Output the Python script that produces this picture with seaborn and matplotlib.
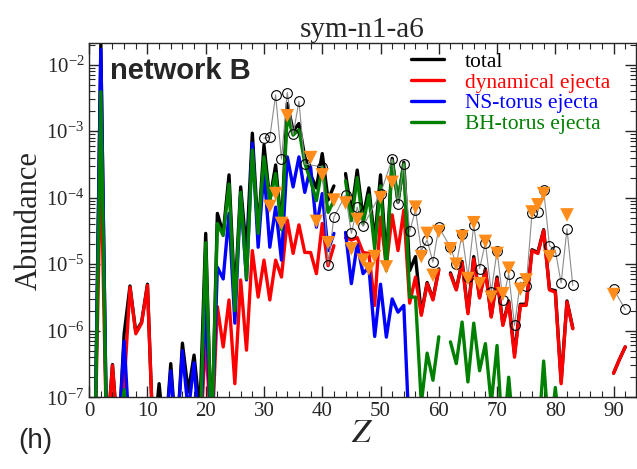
import numpy as np
import pandas as pd
import seaborn as sns
import matplotlib
matplotlib.use("Agg")
import matplotlib.pyplot as plt
from matplotlib.lines import Line2D
from matplotlib.ticker import MultipleLocator, LogLocator, NullFormatter

sns.set_style("ticks")
plt.rcParams["font.family"] = ["Liberation Serif", "DejaVu Serif"]
plt.rcParams["mathtext.fontset"] = "stix"

nan = np.nan
lo = 2e-8  # off the bottom of the plot

Z = list(range(1, 93))

# Z = 1..92
total = [lo, 2.0e-2, lo, 3.1e-7, lo, 9e-7, 4.7e-6, 9.5e-7, 1.35e-6, 5e-6,
         lo, 1.6e-7, lo, 3.2e-7, lo, 6.5e-7, 1.2e-7, 4.3e-7, 6e-8, 2.9e-5,
         lo, 5.8e-5, 2.9e-5, 2.2e-4, 3e-6, 1.45e-4, 1.5e-5, 9.3e-4, 3e-5, 6.2e-4,
         9.1e-5, 3.1e-4, 3.6e-5, 2.6e-3, 1.0e-3, 1.3e-3, 4.1e-4, 2.2e-4, 1.4e-4, 4.6e-4,
         9.2e-5, 1.5e-4, nan, 2.3e-4, 5.8e-5, 2.6e-4, 5.1e-5, 1.4e-4, 2.2e-5, 2.2e-4,
         1.1e-5, 3.9e-4, 8.5e-5, 3.4e-4, 8e-6, 1.3e-5, 1.8e-6, 5.3e-6, 3.0e-6, 8.5e-6,
         nan, 7.4e-6, 4.2e-6, 1.1e-5, 1.9e-6, 1.3e-5, 3.2e-6, 8.5e-6, 1.65e-6, 6.4e-6,
         1.25e-6, 2.8e-6, 4.5e-7, 2.5e-6, 2.5e-6, 1.65e-5, 1.5e-5, 3.3e-5, 4.2e-6, 4.0e-6,
         1.7e-7, 2.8e-6, 1.1e-6, nan, nan, nan, nan, nan, nan, 2.3e-7,
         3.7e-7, 5.7e-7]

dynamical = [lo, 4e-4, lo, 3e-7, lo, 1.5e-7, 4.5e-6, 9e-7, 1.3e-6, 4.8e-6,
             lo, lo, lo, lo, lo, lo, lo, lo, lo, 7.7e-7,
             lo, 2.3e-6, 5.7e-7, 2.9e-6, 1.6e-7, 5.8e-6, 5.1e-7, 1.6e-5, 3.2e-6, 1.15e-5,
             2.9e-6, 1.15e-5, 6.4e-6, 4.6e-5, 1.45e-5, 3.9e-5, 1.5e-5, 1.5e-5, 7.2e-6, 4.1e-5,
             9.5e-6, 1.9e-5, nan, 2.5e-5, 2.3e-5, 2.5e-5, 1.5e-5, 1.45e-5, 2.4e-6, 5.1e-5,
             9.5e-6, 5.5e-5, 1.6e-5, 6.5e-5, 2.6e-6, 6.4e-6, 1.7e-6, 5.1e-6, 2.9e-6, 8.1e-6,
             nan, 7.1e-6, 4.1e-6, 1.05e-5, 1.8e-6, 1.2e-5, 3.1e-6, 8.1e-6, 1.6e-6, 6e-6,
             1.2e-6, 2.7e-6, 4e-7, 2.4e-6, 2.4e-6, 1.6e-5, 1.45e-5, 3.2e-5, 4.1e-6, 3.8e-6,
             1.6e-7, 2.7e-6, 1.07e-6, nan, nan, nan, nan, nan, nan, 2.3e-7,
             3.7e-7, 5.7e-7]

ns_torus = [lo, 1.7e-2, lo, lo, lo, 7e-7, lo, lo, lo, lo,
            lo, lo, lo, 2.5e-7, lo, 5e-7, 6e-8, 3.3e-7, lo, 3e-6,
            lo, 9e-6, 6e-6, 5.8e-5, 1.3e-6, 1.15e-4, 5.8e-6, 6.6e-4, 1.8e-5, 2.6e-4,
            1.8e-5, 7.2e-5, 1.15e-5, 4.1e-4, 1.45e-4, 4.1e-4, 1.2e-4, 2.9e-4, 3.6e-5, 1.15e-4,
            1.6e-5, 2.9e-5, nan, 3e-5, 5.1e-6, 2e-5, 7.2e-6, 9.1e-6, 8.2e-7, 5e-6,
            8e-7, 3e-6, 1.9e-6, 2.4e-6, lo] + [nan] * 37

bh_torus = [lo, 3.9e-3, lo, lo, lo, 1.3e-7, lo, lo, lo, lo,
            lo, lo, lo, lo, lo, lo, lo, lo, lo, 2.1e-5,
            lo, 4.1e-5, 2.7e-5, 1.6e-4, 2e-6, 1.2e-4, 6e-6, 5.2e-4, 2.9e-5, 4.1e-4,
            9e-5, 2.3e-4, 3.3e-5, 1.7e-3, 8.7e-4, 1.05e-3, 3.3e-4, 1.8e-4, 9e-5, 2.9e-4,
            6e-5, 9e-5, nan, 1.8e-4, 4.5e-5, 2e-4, 4e-5, 1.1e-4, 1.7e-5, 1.5e-4,
            8e-6, 3.6e-4, 9e-5, 3.2e-4, 3.2e-6, 3.2e-6, 8e-8, 4.6e-7, 1.8e-7, 8.1e-7,
            nan, 6.8e-7, 3.2e-7, 1.35e-6, 1.7e-7, 1.3e-6, 2.5e-7, 6.4e-7, 8e-8, 6e-7,
            lo, 2e-7, lo, lo, lo, lo, lo, 3.5e-7, lo, 1.4e-7,
            lo, lo, lo] + [nan] * 9

# open circles (thin grey line)
Z_circ = [30, 31, 32, 33, 34, 35, 36, 37, 40, 41, 42, 44, 45, 46, 47, 50, 52, 53, 54, 55,
          56, 57, 58, 59, 60, 62, 63, 64, 65, 66, 67, 68, 69, 70, 71, 72, 73, 74, 75, 76,
          77, 78, 79, 80, 81, 82, 83, 90, 92]
circ = [7.8e-4, 8.1e-4, 3.5e-3, 3.8e-4, 3.8e-3, 8.9e-4, 2.8e-3, 3.2e-4, 2.9e-4, 9.7e-6,
        5.1e-5, 1.1e-4, 2.9e-5, 7.2e-5, 3.7e-5, 1.15e-4, 3.8e-4, 8.1e-5, 3.2e-4, 3.1e-5,
        6.5e-5, 1.6e-5, 2.3e-5, 1.07e-5, 3.6e-5, 1.8e-5, 1.0e-5, 2.8e-5, 6.5e-6, 3.9e-5,
        8.6e-6, 2.1e-5, 3.8e-6, 1.6e-5, 2.9e-6, 7.1e-6, 1.2e-6, 5.4e-6, 4.7e-6, 5.9e-5,
        6.1e-5, 1.3e-4, 1.9e-5, 1.6e-5, 5.2e-6, 3.4e-5, 4.8e-6, 4.2e-6, 2.1e-6]

# orange triangles
Z_tri = [31, 32, 33, 34, 38, 39, 40, 41, 42, 44, 45, 46, 47, 48, 49, 50, 51, 52,
         56, 57, 58, 59, 60, 62, 63, 64, 65, 66, 67, 68, 69, 70, 71, 72, 74, 75, 76,
         77, 78, 79, 82, 90]
tri = [7.4e-5, 1.15e-4, 4.1e-5, 1.7e-3, 4.0e-4, 4.4e-5, 2.2e-4, 2.1e-5, 9.2e-5,
       8.3e-5, 1.7e-5, 4.7e-5, 1.15e-5, 8.5e-6, 1.3e-5, 1.0e-4, 9.1e-6, 1.7e-4,
       7.2e-5, 1.3e-5, 2.9e-5, 6.8e-6, 3.1e-5, 1.7e-5, 1.0e-5, 2.6e-5, 6.1e-6, 4.2e-5,
       5.1e-6, 2.2e-5, 3.2e-6, 1.45e-5, 3.6e-6, 8.7e-6, 4.2e-6, 5.8e-6, 6.1e-5,
       7.8e-5, 1.15e-4, 1.3e-5, 5.5e-5, 3.5e-6]

labels = ["total", "dynamical ejecta", "NS-torus ejecta", "BH-torus ejecta"]
colors = ["black", "red", "blue", "green"]
series = [total, dynamical, ns_torus, bh_torus]


def to_frame(zs, vals):
    seg, segs = 0, []
    for v in vals:
        if np.isnan(v):
            seg += 1
        segs.append(seg)
    return pd.DataFrame({"Z": zs, "val": vals, "seg": segs}).dropna()


fig = plt.figure(figsize=(6.37, 4.69), dpi=100)
ax = fig.add_axes([0.14, 0.153, 0.858, 0.755])
ax.set_yscale("log")

for vals, c in zip(series, colors):
    d = to_frame(Z, vals)
    sns.lineplot(data=d, x="Z", y="val", units="seg", estimator=None, sort=False,
                 color=c, lw=2.4, ax=ax, legend=False)

dc = pd.DataFrame({"Z": Z_circ, "val": circ,
                   "seg": [0 if z < 85 else 1 for z in Z_circ]})
sns.lineplot(data=dc, x="Z", y="val", units="seg", estimator=None, sort=False,
             color="0.55", lw=0.8, marker="o", ms=7, mfc="none", mec="black",
             mew=0.8, ax=ax, legend=False)

sns.scatterplot(x=Z_tri, y=tri, marker="v", s=95, color="#ff8c1a",
                edgecolor="none", ax=ax, zorder=5, legend=False)

ax.set_xlim(0, 93.8)
ax.set_ylim(1e-7, 2.1e-2)
ax.xaxis.set_major_locator(MultipleLocator(10))
ax.xaxis.set_minor_locator(MultipleLocator(2))
ax.yaxis.set_major_locator(LogLocator(base=10))
ax.yaxis.set_minor_locator(LogLocator(base=10, subs=np.arange(2, 10)))
ax.yaxis.set_minor_formatter(NullFormatter())
ax.tick_params(which="both", direction="in", top=True, right=True, labelsize=15)
ax.tick_params(which="major", length=8, width=1)
ax.tick_params(which="minor", length=4, width=0.8)
for s in ax.spines.values():
    s.set_linewidth(1.0)

ax.set_xlabel("$Z$", fontsize=24, labelpad=-2)
ax.set_ylabel("Abundance", fontsize=22, labelpad=2)
ax.set_title("sym-n1-a6", fontsize=21, pad=4)

ax.text(0.038, 0.92, "network B", transform=ax.transAxes, fontfamily="Liberation Sans",
        fontweight="bold", fontsize=21, va="center")
fig.text(0.028, 0.045, "(h)", fontfamily="Liberation Sans", fontsize=20)

handles = [Line2D([], [], color=c, lw=2.4) for c in colors]
leg = ax.legend(handles, labels, loc="upper left", bbox_to_anchor=(0.561, 1.018),
                frameon=False, fontsize=15.5, labelspacing=0.03, handlelength=1.55,
                handletextpad=0.95, borderpad=0.2)
for t, c in zip(leg.get_texts(), colors):
    t.set_color(c)

fig.savefig("out.png", dpi=100)
